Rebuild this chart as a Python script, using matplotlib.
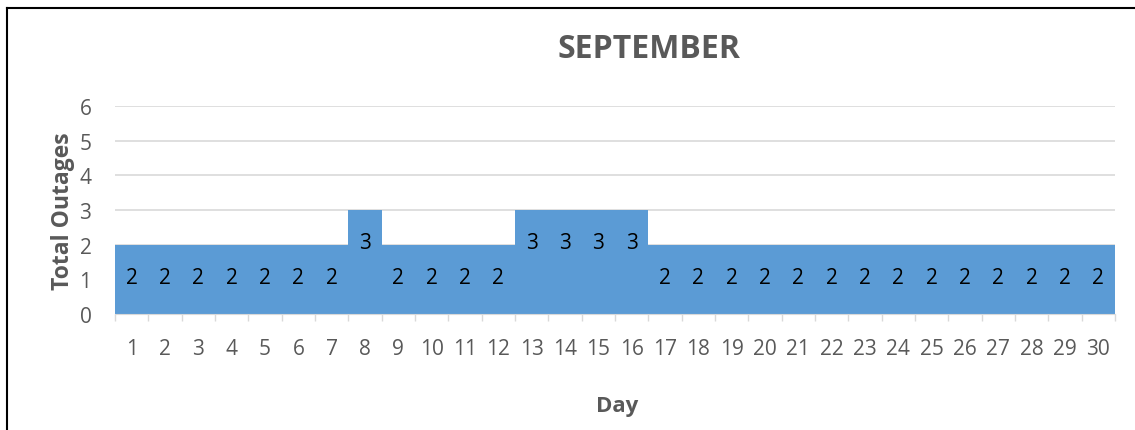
import matplotlib.pyplot as plt
from matplotlib.lines import Line2D

days = [str(d) for d in range(1, 31)]
outages = [2, 2, 2, 2, 2, 2, 2, 3, 2, 2, 2, 2, 3, 3, 3, 3,
           2, 2, 2, 2, 2, 2, 2, 2, 2, 2, 2, 2, 2, 2]
yticks = [0, 1, 2, 3, 4, 5, 6]

plt.rcParams['font.family'] = ['Open Sans', 'DejaVu Sans']
gray = '#595959'

fig = plt.figure(figsize=(11.35, 4.31), dpi=100)
ax = fig.add_axes([115 / 1135, 1 - 315 / 431, 1000 / 1135, 208 / 431])

x = list(range(len(days)))
ax.bar(x, outages, width=1.0, color='#5B9BD5', zorder=2)
for xi, v in zip(x, outages):
    ax.text(xi, v - 0.95, str(v), ha='center', va='center', fontsize=15,
            color='black', zorder=3)

ax.set_xlim(-0.5, len(days) - 0.5)
ax.set_ylim(0, 6)
ax.set_yticks(yticks)
ax.set_yticklabels([str(t) for t in yticks], fontsize=15, color=gray)
ax.yaxis.grid(True, color='#D9D9D9', linewidth=1.2, zorder=0)
ax.tick_params(axis='y', length=0, pad=17)

ax.set_xticks(x)
ax.set_xticklabels(days, fontsize=15, color=gray)
ax.set_xticks([i - 0.5 for i in range(len(days) + 1)], minor=True)
ax.tick_params(axis='x', which='major', length=0, pad=17)
ax.tick_params(axis='x', which='minor', length=5, color='#D9D9D9', width=1)

for s in ['top', 'right', 'left']:
    ax.spines[s].set_visible(False)
ax.spines['bottom'].set_color('#D9D9D9')

ax.set_ylabel('Total Outages', fontsize=16.5, fontweight='bold', color=gray,
              labelpad=3)
fig.text(617 / 1135, 1 - 407 / 431, 'Day', ha='center', va='center',
         fontsize=16, fontweight='bold', color=gray)
fig.text(649 / 1135, 1 - 49 / 431, 'SEPTEMBER', ha='center', va='center',
         fontsize=23, fontweight='bold', color=gray)

# frame around the chart (left and top edges only visible)
fig.add_artist(Line2D([6.5 / 1135, 6.5 / 1135], [0, 1 - 8.5 / 431],
                      transform=fig.transFigure, color='black', linewidth=1.5))
fig.add_artist(Line2D([6.5 / 1135, 1], [1 - 8.5 / 431, 1 - 8.5 / 431],
                      transform=fig.transFigure, color='black', linewidth=1.5))

fig.savefig('out.png', dpi=100)
